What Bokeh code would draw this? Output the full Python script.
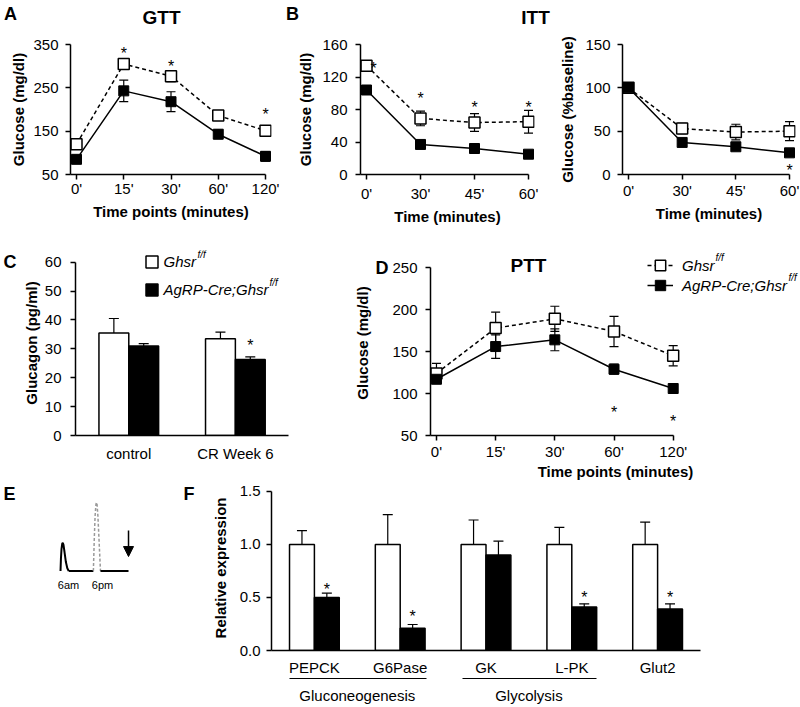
from bokeh.plotting import figure
from bokeh.layouts import row, column
from bokeh.models import (ColumnDataSource, Range1d, FixedTicker, Whisker, TeeHead, Label,
                          Legend, LegendItem, LinearAxis, Arrow, NormalHead,
                          PrintfTickFormatter)
from bokeh.core.properties import value
from bokeh.embed import file_html
from bokeh.resources import INLINE

FONT = "Liberation Sans"

# ---------------- data ----------------
gtt_labels = ["0'", "15'", "30'", "60'", "120'"]
gtt_ctrl = [120, 305, 277, 186, 151]
gtt_ctrl_err = [10, 8, 13, 5, 5]
gtt_ko = [85, 243, 218, 143, 92]
gtt_ko_err = [7, 25, 23, 10, 11]
gtt_star_idx = [1, 2, 4]
gtt_star_val = [339, 309, 198]
gtt_yticks = [50, 150, 250, 350]

itt_labels = ["0'", "30'", "45'", "60'"]
itt_ctrl = [134, 69, 64, 65]
itt_ctrl_err = [5, 9, 11, 14]
itt_ko = [104, 37, 32, 25]
itt_ko_err = [4, 2, 2, 2]
itt_star_idx = [0, 1, 2, 3]
itt_star_val = [136, 99, 87, 87]
itt_yticks = [0, 40, 80, 120, 160]

ittp_ctrl = [100, 53, 49, 50]
ittp_ctrl_err = [2, 6, 9, 11]
ittp_ko = [100, 37, 32, 25]
ittp_ko_err = [2, 2, 2, 2]
ittp_star_idx = [3]
ittp_star_val = [9]
ittp_yticks = [0, 50, 100, 150]

glu_groups = ["control", "CR Week 6"]
glu_ctrl = [35.5, 33.5]
glu_ctrl_err = [5.0, 2.3]
glu_ko = [31.0, 26.3]
glu_ko_err = [0.8, 0.9]
glu_star_idx = [1]
glu_star_val = [32.5]
glu_yticks = [0, 10, 20, 30, 40, 50, 60]

ptt_labels = ["0'", "15'", "30'", "60'", "120'"]
ptt_ctrl = [124, 178, 189, 174, 145]
ptt_ctrl_err = [12, 19, 15, 18, 12]
ptt_ko = [117, 156, 164, 129, 106]
ptt_ko_err = [4, 14, 13, 6, 3]
ptt_star_idx = [3, 4]
ptt_star_val = [82, 72]
ptt_yticks = [50, 100, 150, 200, 250]

genes = ["PEPCK", "G6Pase", "GK", "L-PK", "Glut2"]
gene_ctrl = [1.0, 1.0, 1.0, 1.0, 1.0]
gene_ctrl_err = [0.13, 0.28, 0.23, 0.16, 0.21]
gene_ko = [0.50, 0.21, 0.90, 0.41, 0.39]
gene_ko_err = [0.04, 0.035, 0.13, 0.03, 0.05]
gene_star_idx = [0, 1, 3, 4]
gene_star_val = [0.61, 0.36, 0.54, 0.54]
gene_yticks = [0.0, 0.5, 1.0, 1.5]
gene_groups = ["Gluconeogenesis", "Glycolysis"]
gene_group_members = [[0, 1], [2, 3]]

legend_ctrl = "Ghsr"
legend_ko = "AgRP-Cre;Ghsr"
legend_sup = "f/f"

# E: schematic (hour of day vs relative level)
e_day_x = [5.3, 5.45, 5.65, 5.9, 6.1, 6.35, 6.7, 7.2, 7.7, 8.2]
e_day_y = [0.0, 0.18, 0.32, 0.40, 0.41, 0.38, 0.28, 0.13, 0.04, 0.0]
e_night_x = [16.9, 17.2, 17.5, 17.8, 18.0, 18.2, 18.5, 18.9, 19.4]
e_night_y = [0.0, 0.45, 0.80, 0.97, 1.0, 0.97, 0.80, 0.45, 0.0]
e_base1_x = [8.2, 16.9]
e_base2_x = [19.4, 29.3]
e_arrow_x = 29.3
e_arrow_y = [0.59, 0.21]
e_tick_labels = ["6am", "6pm"]
e_tick_hours = [6, 18]


# ---------------- helpers ----------------
def style_axis(ax, tick_out=5):
    ax.axis_line_width = 1.5
    ax.axis_line_color = "black"
    ax.major_tick_line_width = 1.5
    ax.major_tick_line_color = "black"
    ax.major_tick_out = tick_out
    ax.major_tick_in = 0
    ax.minor_tick_line_color = None
    ax.major_label_text_font = FONT
    ax.major_label_text_font_size = "15px"
    ax.major_label_text_color = "black"
    ax.axis_label_text_font = FONT
    ax.axis_label_text_font_size = "15px"
    ax.axis_label_text_font_style = "bold"
    ax.axis_label_text_color = "black"


def make_fig(fx, fy, fw, fh, fl, fr, ft, fb, xr, yr, axes=True):
    kw = dict(width=fw, height=fh, x_range=xr, y_range=yr, output_backend="svg",
              toolbar_location=None,
              min_border_left=fl - fx, min_border_right=fx + fw - fr,
              min_border_top=ft - fy, min_border_bottom=fy + fh - fb)
    if not axes:
        kw.update(x_axis_type=None, y_axis_type=None)
    p = figure(**kw)
    p.outline_line_color = None
    p.background_fill_color = "white"
    p.border_fill_color = "white"
    if axes:
        p.xgrid.grid_line_color = None
        p.ygrid.grid_line_color = None
        for ax in p.axis:
            style_axis(ax)
    return p


def letter_axis(p, tick, text, standoff, range_name="default", with_label=None, label_standoff=2):
    ax = LinearAxis(y_range_name=range_name, ticker=FixedTicker(ticks=[tick], minor_ticks=[]),
                    major_label_overrides={tick: text})
    style_axis(ax, tick_out=0)
    ax.axis_line_color = None
    ax.major_tick_line_color = None
    ax.major_label_standoff = standoff
    ax.major_label_text_font_size = "18px"
    ax.major_label_text_font_style = "bold"
    if with_label:
        ax.axis_label = with_label
        ax.axis_label_standoff = label_standoff
    p.add_layout(ax, "left")
    return ax


def frame_label(p, frame, px, py, text, size=19, style="bold", align="center"):
    fl, fb = frame
    p.add_layout(Label(x=px - fl, y=fb - py, x_units="screen", y_units="screen",
                       text=text, text_font=FONT, text_font_size=f"{size}px",
                       text_font_style=style, text_align=align, text_baseline="middle",
                       text_color="black"))


def whiskers(p, xs, vals, errs, both=True, head=9):
    lo = [v - e for v, e in zip(vals, errs)] if both else list(vals)
    hi = [v + e for v, e in zip(vals, errs)]
    src = ColumnDataSource(dict(base=list(xs), lower=lo, upper=hi))
    w = Whisker(source=src, base="base", lower="lower", upper="upper", dimension="height",
                line_color="black", line_width=1.2, level="underlay",
                upper_head=TeeHead(size=head, line_color="black", line_width=1.2),
                lower_head=TeeHead(size=head, line_color="black", line_width=1.2) if both else None)
    p.add_layout(w)


def stars(p, xs, ys, dx=None, size=16):
    src = ColumnDataSource(dict(x=list(xs), y=list(ys), t=["*"] * len(xs),
                                dx=dx if dx else [0] * len(xs)))
    p.text(x="x", y="y", text="t", x_offset="dx", source=src, text_font=value(FONT),
           text_font_size=value(f"{size}px"), text_align="center", text_baseline="middle",
           y_offset=4, text_color="black")


def line_panel(p, labels, ctrl, ctrl_err, ko, ko_err, star_idx, star_val, yticks,
               xlabel, ylabel, wsize=11, bsize=10, star_dx=None):
    xs = list(range(len(labels)))
    whiskers(p, xs, ctrl, ctrl_err)
    whiskers(p, xs, ko, ko_err)
    src_c = ColumnDataSource(dict(x=xs, y=ctrl))
    src_k = ColumnDataSource(dict(x=xs, y=ko))
    lc = p.line("x", "y", source=src_c, line_color="black", line_width=1.5, line_dash="4 3")
    lk = p.line("x", "y", source=src_k, line_color="black", line_width=1.5)
    sc = p.scatter("x", "y", source=src_c, marker="square", size=wsize, fill_color="white",
                   line_color="black", line_width=1.5)
    sk = p.scatter("x", "y", source=src_k, marker="square", size=bsize, fill_color="black",
                   line_color="black", line_width=1)
    stars(p, star_idx, star_val, dx=star_dx)
    p.xaxis.ticker = FixedTicker(ticks=xs, minor_ticks=[])
    p.xaxis.major_label_overrides = {i: l for i, l in enumerate(labels)}
    p.xaxis.bounds = (p.x_range.start, xs[-1])
    p.yaxis.ticker = FixedTicker(ticks=yticks, minor_ticks=[])
    p.yaxis.bounds = (yticks[0], yticks[-1])
    p.xaxis.axis_label = xlabel
    if ylabel:
        p.yaxis.axis_label = ylabel
    return lc, sc, lk, sk


def bar_panel(p, cats, ctrl, ctrl_err, ko, ko_err, width, star_idx, star_val, yticks, ylabel):
    n = len(cats)
    xc = [i - width / 2 for i in range(n)]
    xk = [i + width / 2 for i in range(n)]
    whiskers(p, xc, ctrl, ctrl_err, both=False, head=10)
    whiskers(p, xk, ko, ko_err, both=False, head=10)
    rc = p.vbar(x=xc, top=ctrl, bottom=0, width=width, fill_color="white",
                line_color="black", line_width=1.5)
    rk = p.vbar(x=xk, top=ko, bottom=0, width=width, fill_color="black",
                line_color="black", line_width=1.5)
    stars(p, [xk[i] for i in star_idx], star_val)
    p.xaxis.ticker = FixedTicker(ticks=list(range(n)), minor_ticks=[])
    p.xaxis.major_label_overrides = {i: c for i, c in enumerate(cats)}
    p.xaxis.major_tick_line_color = None
    p.xaxis.major_tick_out = 0
    p.xaxis.bounds = (-0.5, n - 0.5)
    p.yaxis.ticker = FixedTicker(ticks=yticks, minor_ticks=[])
    p.yaxis.bounds = (yticks[0], yticks[-1])
    p.yaxis.axis_label = ylabel
    return rc, rk


def legend_row(p, frame, label, rends, gx, cy, gw, gh, standoff):
    fl, fb = frame
    lg = Legend(items=[LegendItem(label=value(label), renderers=rends)],
                location=(gx - fl, fb - (cy + gh / 2)), glyph_width=gw, glyph_height=gh,
                label_standoff=standoff, padding=0, spacing=0, margin=0, label_height=gh,
                border_line_color=None, background_fill_alpha=0,
                label_text_font=FONT, label_text_font_size="15px",
                label_text_font_style="italic", label_text_color="black")
    p.add_layout(lg)


# ---------------- header strip (panel letters and titles of row 1) ----------------
pH = figure(width=800, height=28, x_range=Range1d(0, 800), y_range=Range1d(28, 0),
            x_axis_type=None, y_axis_type=None, output_backend="svg", toolbar_location=None,
            min_border=0)
pH.outline_line_color = None
head_text = ["A", "GTT", "B", "ITT"]
head_x = [10, 161, 292, 535]
head_y = [13, 17, 13, 17]
head_size = ["18px", "19px", "18px", "19px"]
pH.text(x=head_x, y=head_y, text=head_text, text_font=value(FONT), text_font_size=head_size,
        text_font_style="bold", text_align="center", text_baseline="middle", text_color="black")

# ---------------- A: GTT ----------------
ppu = (265 - 76) / 4
pA = make_fig(0, 28, 285, 207, 70, 271, 35, 179,
              Range1d(-6 / ppu, 4 + 6 / ppu), Range1d(50, 350))
line_panel(pA, gtt_labels, gtt_ctrl, gtt_ctrl_err, gtt_ko, gtt_ko_err, gtt_star_idx,
           gtt_star_val, gtt_yticks, "Time points (minutes)", "Glucose (mg/dl)")
pA.xaxis.major_label_standoff = 0
pA.xaxis.axis_label_standoff = 3
pA.yaxis.major_label_standoff = 7
pA.yaxis.axis_label_standoff = 3

# ---------------- B: ITT ----------------
ppu = (528 - 366) / 3
pB1 = make_fig(285, 28, 270, 207, 360, 534, 41, 174,
               Range1d(-6 / ppu, 3 + 6 / ppu), Range1d(0, 160))
line_panel(pB1, itt_labels, itt_ctrl, itt_ctrl_err, itt_ko, itt_ko_err, itt_star_idx,
           itt_star_val, itt_yticks, "Time (minutes)", "Glucose (mg/dl)",
           star_dx=[7, 0, 0, 0])
pB1.xaxis.major_label_standoff = 5
pB1.xaxis.axis_label_standoff = 3
pB1.yaxis.major_label_standoff = 8
pB1.yaxis.axis_label_standoff = 5

ppu = (789 - 628) / 3
pB2 = make_fig(555, 28, 245, 207, 622, 795, 44, 178,
               Range1d(-6 / ppu, 3 + 6 / ppu), Range1d(0, 150))
line_panel(pB2, itt_labels, ittp_ctrl, ittp_ctrl_err, ittp_ko, ittp_ko_err, ittp_star_idx,
           ittp_star_val, ittp_yticks, "Time (minutes)", "Glucose (%baseline)")
pB2.xaxis.major_label_standoff = 2
pB2.xaxis.axis_label_standoff = 3
pB2.yaxis.major_label_standoff = 7
pB2.yaxis.axis_label_standoff = 6

# ---------------- C: glucagon ----------------
ppy = (440 - 262) / 60
pC = make_fig(0, 235, 350, 247, 72, 300, 250, 440,
              Range1d(-0.5, 1.5 + 12 / 108), Range1d(0, 60 + 12 / ppy))
rc, rk = bar_panel(pC, glu_groups, glu_ctrl, glu_ctrl_err, glu_ko, glu_ko_err, 0.28,
                   glu_star_idx, glu_star_val, glu_yticks, "Glucagon (pg/ml)")
pC.xaxis.major_label_standoff = 9
pC.yaxis.major_label_standoff = 9
pC.yaxis.axis_label_standoff = 2
letter_axis(pC, glu_yticks[-1], "C", 3)
legend_row(pC, (72, 440), legend_ctrl, [rc], 140.5, 262 + 5, 15, 15, 5)
legend_row(pC, (72, 440), legend_ko, [rk], 140.5, 290 + 5, 15, 15, 5)
frame_label(pC, (72, 440), 194, 259, legend_sup, size=10, style="italic", align="left")
frame_label(pC, (72, 440), 266, 287, legend_sup, size=10, style="italic", align="left")

# ---------------- D: PTT ----------------
ppu = (672 - 434) / 4
ppy = (440 - 264) / 200
pD = make_fig(350, 235, 450, 247, 428, 800, 246, 440,
              Range1d(-6 / ppu, 4 + 128 / ppu), Range1d(50, 250 + 18 / ppy))
lc, sc, lk, sk = line_panel(pD, ptt_labels, ptt_ctrl, ptt_ctrl_err, ptt_ko, ptt_ko_err,
                            ptt_star_idx, ptt_star_val, ptt_yticks, "Time points (minutes)",
                            None)
pD.xaxis.major_label_standoff = 2
pD.xaxis.axis_label_standoff = 0
pD.yaxis.major_label_standoff = 8
letter_axis(pD, ptt_yticks[-1], "D", 1, with_label="Glucose (mg/dl)", label_standoff=2)
frame_label(pD, (428, 440), 526, 270, "PTT")
legend_row(pD, (428, 440), legend_ctrl, [lc, sc], 645, 265 + 5, 26, 30, 9)
legend_row(pD, (428, 440), legend_ko, [lk, sk], 645, 285 + 5, 26, 30, 9)
frame_label(pD, (428, 440), 713, 262, legend_sup, size=10, style="italic", align="left")
frame_label(pD, (428, 440), 786, 282, legend_sup, size=10, style="italic", align="left")

# ---------------- E: schematic ----------------
hx = (96 - 62) / 12.0
hy = 598 - 505
pE = make_fig(0, 482, 180, 224, 0, 180, 482, 706,
              Range1d(6 - 62 / hx, 6 + (180 - 62) / hx),
              Range1d(-(706 - 598) / hy, (598 - 482) / hy), axes=False)
pE.min_border = 0
pE.line(e_day_x, e_day_y, line_color="black", line_width=2)
pE.line(e_base1_x, [0, 0], line_color="black", line_width=2)
pE.line(e_night_x, e_night_y, line_color="#9a9a9a", line_width=1.5, line_dash="3 2")
pE.line(e_base2_x, [0, 0], line_color="black", line_width=2)
pE.add_layout(Arrow(end=NormalHead(size=10, fill_color="black", line_color="black"),
                    x_start=e_arrow_x, y_start=e_arrow_y[0], x_end=e_arrow_x,
                    y_end=e_arrow_y[1], line_color="black", line_width=1.5))
pE.text(x=e_tick_hours, y=[-0.2, -0.2], text=e_tick_labels, x_offset=6,
        text_font=value(FONT), text_font_size=value("11px"), text_align="center",
        text_baseline="middle", text_color="black")
# panel letter, placed at page pixel (9, 494) through the panel's own scales
pE.text(x=[6 + (9 - 62) / hx], y=[(598 - 494) / hy], text=["E"], text_font=value(FONT),
        text_font_size=value("18px"), text_font_style="bold", text_align="center",
        text_baseline="middle", text_color="black")

# ---------------- F: gene expression ----------------
ppy = (655 - 491) / 1.5
yend = 1.5 + 6 / ppy
pF = make_fig(180, 482, 620, 224, 268, 700, 485, 655,
              Range1d(-0.5, 4.5), Range1d(0, yend))
bw = 0.29
bar_panel(pF, genes, gene_ctrl, gene_ctrl_err, gene_ko, gene_ko_err, bw,
          gene_star_idx, gene_star_val, gene_yticks, "Relative expression")
pF.yaxis.formatter = PrintfTickFormatter(format="%.1f")
pF.xaxis.major_label_standoff = 8
pF.yaxis.major_label_standoff = 6
pF.yaxis.axis_label_standoff = 8
# panel letter: an outer axis whose single integer tick sits where the letter goes
frame_h = 655 - 485
letter_pos = 655 - 494
pF.extra_y_ranges = {"letter": Range1d(0, 3 * frame_h / letter_pos)}
letter_axis(pF, 3, "F", 14, range_name="letter")
# group labels with underlines: an outer x axis on a doubled range
pF.extra_x_ranges = {"grp": Range1d(-1, 9)}
g0 = [2 * (m[0] - bw) for m in gene_group_members]
g1 = [2 * (m[-1] + bw) for m in gene_group_members]
px_per = 432 / 10
seg = round((g1[0] - g0[0]) * px_per)
gap = round((g0[1] - g1[0]) * px_per)
gax = LinearAxis(x_range_name="grp",
                 ticker=FixedTicker(ticks=[m[0] + m[-1] for m in gene_group_members],
                                    minor_ticks=[]),
                 major_label_overrides={m[0] + m[-1]: g for m, g in
                                        zip(gene_group_members, gene_groups)})
style_axis(gax, tick_out=0)
gax.major_tick_line_color = None
gax.axis_line_width = 1.2
gax.axis_line_dash = f"{seg} {gap}"
gax.bounds = (g0[0], g1[-1])
gax.major_label_standoff = 8
pF.add_layout(gax, "below")

layout = column(pH, row(pA, pB1, pB2, spacing=0), row(pC, pD, spacing=0),
                row(pE, pF, spacing=0), spacing=0)
open("out.html", "w").write(file_html(layout, INLINE, title="Figure"))
